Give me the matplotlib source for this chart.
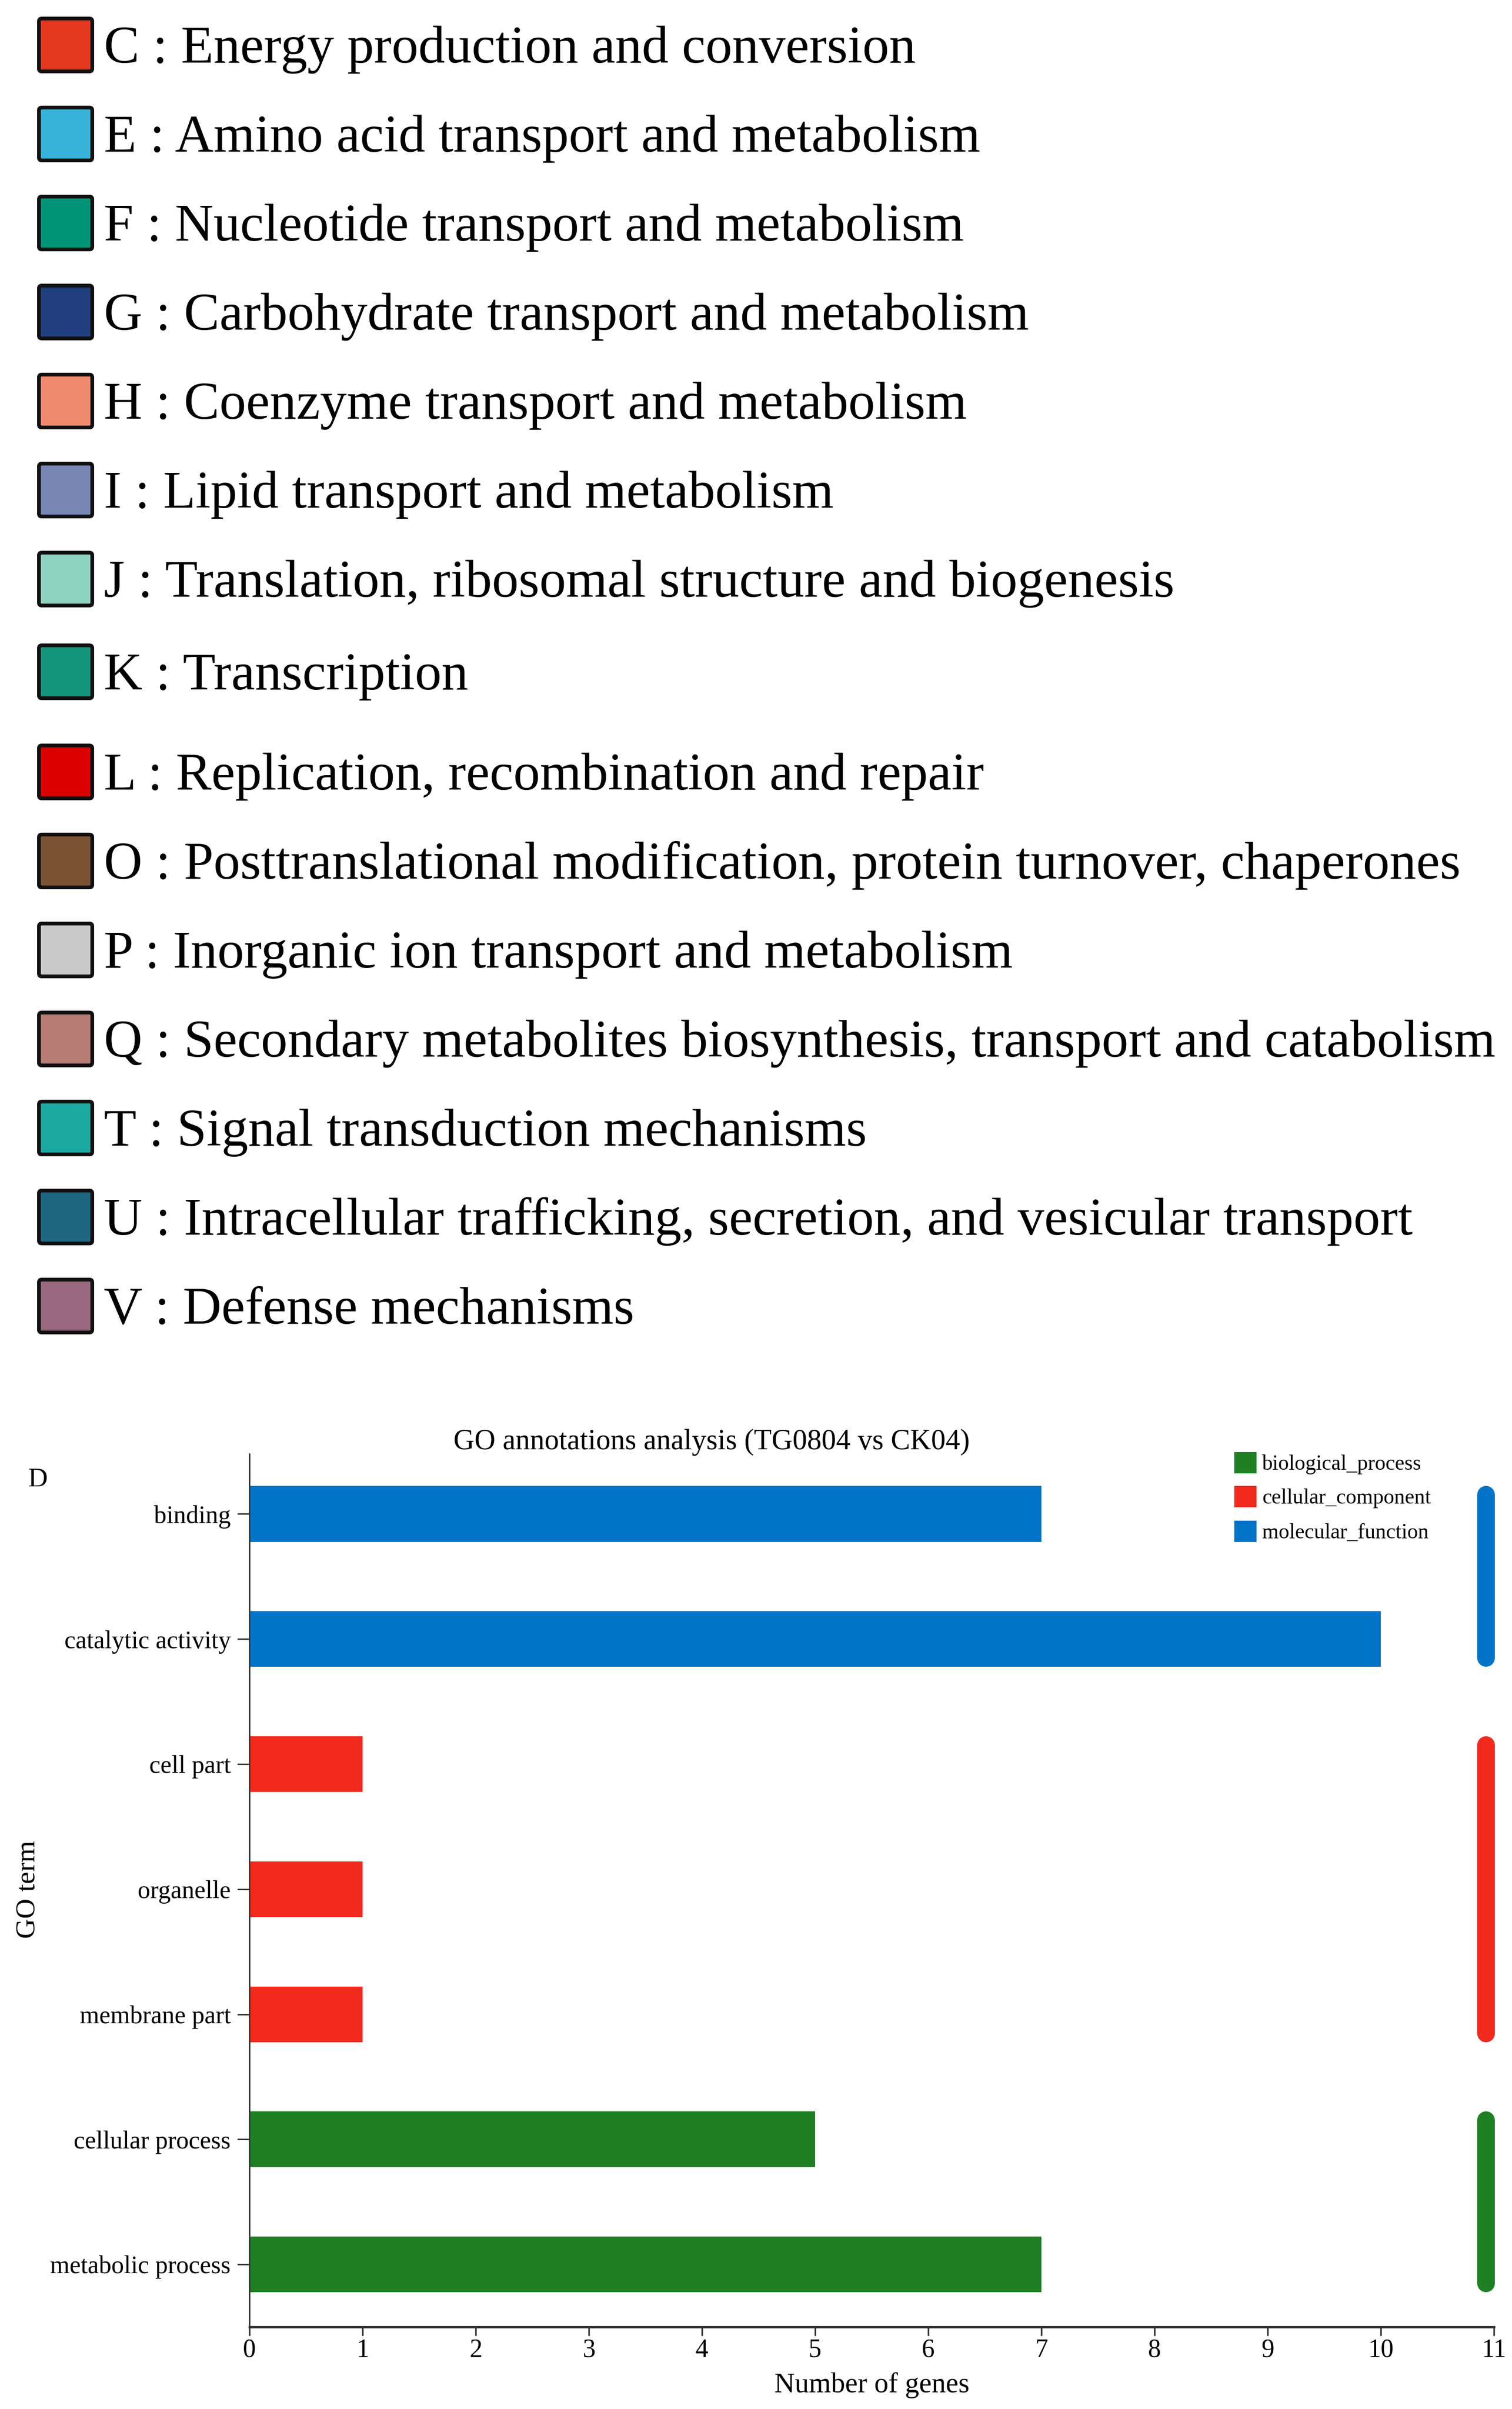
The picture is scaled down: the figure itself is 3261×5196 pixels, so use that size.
import numpy as np
import matplotlib
matplotlib.use("Agg")
import matplotlib.pyplot as plt
from matplotlib.patches import FancyBboxPatch, Rectangle

plt.rcParams['font.family'] = ['Liberation Serif', 'DejaVu Serif']

# COG category key (top panel)
cog_codes = ['C', 'E', 'F', 'G', 'H', 'I', 'J', 'K', 'L', 'O', 'P', 'Q', 'T', 'U', 'V']
cog_names = ['Energy production and conversion',
             'Amino acid transport and metabolism',
             'Nucleotide transport and metabolism',
             'Carbohydrate transport and metabolism',
             'Coenzyme transport and metabolism',
             'Lipid transport and metabolism',
             'Translation, ribosomal structure and biogenesis',
             'Transcription',
             'Replication, recombination and repair',
             'Posttranslational modification, protein turnover, chaperones',
             'Inorganic ion transport and metabolism',
             'Secondary metabolites biosynthesis, transport and catabolism',
             'Signal transduction mechanisms',
             'Intracellular trafficking, secretion, and vesicular transport',
             'Defense mechanisms']
cog_colors = ['#E5391F', '#38B2D8', '#009479', '#213F7E', '#F08B6E',
              '#7886B4', '#8DD4C0', '#13957A', '#DC0000', '#7B5133',
              '#C9C9C9', '#B77C74', '#1CA9A2', '#1E6680', '#99687F']

# GO annotation bar chart (panel D)
go_terms = ['binding', 'catalytic activity', 'cell part', 'organelle',
            'membrane part', 'cellular process', 'metabolic process']
go_counts = [7, 10, 1, 1, 1, 5, 7]
go_class = ['molecular_function', 'molecular_function',
            'cellular_component', 'cellular_component', 'cellular_component',
            'biological_process', 'biological_process']
class_names = ['biological_process', 'cellular_component', 'molecular_function']
class_colors = ['#1F7F23', '#F2291D', '#0274C8']

W, H = 3262, 5196
fig = plt.figure(figsize=(W / 100, H / 100), dpi=100)


def pt2px(pt):
    return pt * 100 / 72


# ---- bar chart ----
ax_left, ax_right, ax_top, ax_bottom = 538, 3222, 3136, 5019
ax = fig.add_axes([ax_left / W, 1 - ax_bottom / H,
                   (ax_right - ax_left) / W, (ax_bottom - ax_top) / H])
color_of = dict(zip(class_names, class_colors))
ypos = np.arange(len(go_terms))[::-1]
bar_h = 0.445
ax.barh(ypos, go_counts, height=bar_h, color=[color_of[c] for c in go_class],
        edgecolor='none')
ax.set_xlim(0, 11)
ax.set_ylim(-0.5, 6.48)
ax.set_xticks(range(12))
ax.set_yticks(ypos)
ax.set_yticklabels(go_terms)
for s in ['top', 'right']:
    ax.spines[s].set_visible(False)
ax.spines['left'].set_linewidth(2.2)
ax.spines['left'].set_color('#333333')
ax.spines['bottom'].set_linewidth(3.6)
ax.spines['bottom'].set_color('#333333')
ax.tick_params(axis='y', length=19, width=2.2, pad=10, labelsize=39, color='#333333')
ax.tick_params(axis='x', length=14, width=2.5, pad=4, labelsize=40, color='#333333')

# group indicator bars on the right
unit_px = (ax_bottom - ax_top) / (6.48 + 0.5)
inset = 19 / unit_px
for name, col in zip(class_names, class_colors):
    ys = [y for y, c in zip(ypos, go_class) if c == name]
    top = max(ys) + bar_h / 2 - inset
    bot = min(ys) - bar_h / 2 + inset
    ax.plot([10.93, 10.93], [bot, top], color=col, lw=27.4,
            solid_capstyle='round', clip_on=False)

# ---- overlay in pixel coordinates for key and labels ----
ov = fig.add_axes([0, 0, 1, 1], zorder=5)
ov.set_xlim(0, W)
ov.set_ylim(H, 0)
ov.axis('off')


def put(x, yc, s, size, ha='left', **kw):
    # place text so that capital letters are centred on yc
    ov.text(x, yc + 0.331 * pt2px(size), s, fontsize=size, ha=ha,
            va='baseline', **kw)


row_y = [97, 289, 481, 673, 865, 1057, 1249, 1449, 1665,
         1857, 2049, 2241, 2433, 2625, 2817]
for code, name, col, yc in zip(cog_codes, cog_names, cog_colors, row_y):
    ov.add_patch(FancyBboxPatch((84, yc - 57), 115, 114,
                                boxstyle='round,pad=0,rounding_size=6',
                                facecolor=col, edgecolor='#111111', lw=5.8))
    put(224, yc, code + ' : ' + name, 82.8)

# panel legend
leg_y = [3155, 3228, 3303]
for name, col, yc in zip(class_names, class_colors, leg_y):
    ov.add_patch(Rectangle((2662, yc - 23), 48, 46, facecolor=col,
                           edgecolor='none'))
    put(2722, yc, name, 33)

put(1535, 3105, 'GO annotations analysis (TG0804 vs CK04)', 45, ha='center')
put(60, 3187, 'D', 42)
ov.text(61, 4075, 'GO term', fontsize=43, rotation=90, ha='center',
        va='center')
ov.text(1880, 5145, 'Number of genes', fontsize=44, ha='center', va='center')

fig.savefig('out.png', dpi=100)
